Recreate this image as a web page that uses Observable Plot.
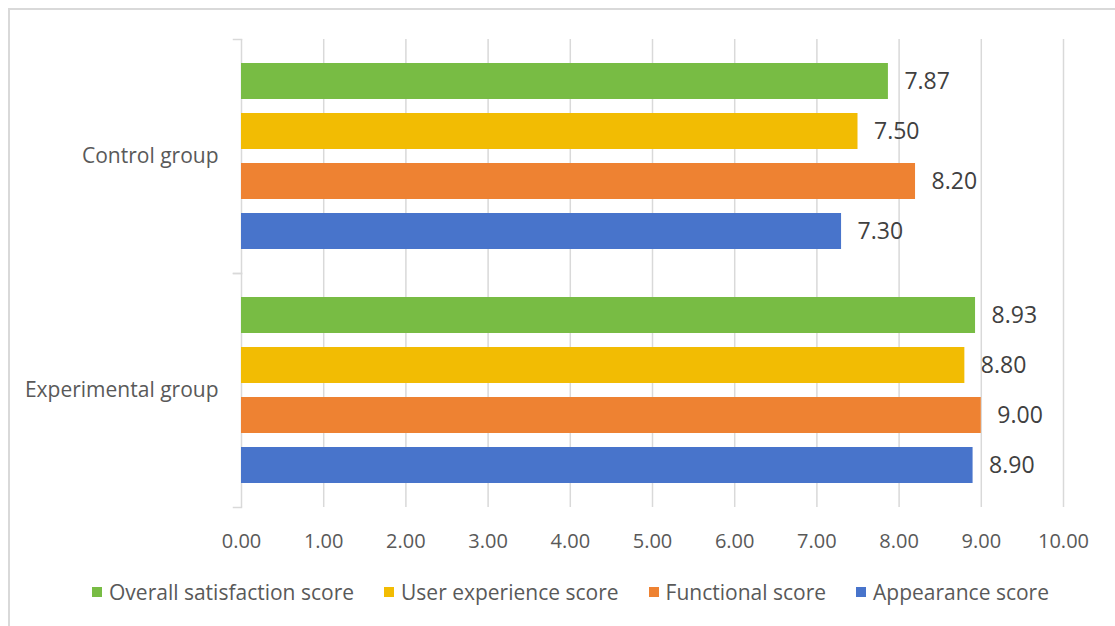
<!DOCTYPE html>
<html>
<head>
<meta charset="utf-8">
<script src="https://cdn.jsdelivr.net/npm/d3@7"></script>
<script src="https://cdn.jsdelivr.net/npm/@observablehq/plot@0.6"></script>
<style>
  html, body { margin: 0; padding: 0; background: #fff; }
  #wrap { position: relative; width: 1115px; height: 626px; overflow: hidden; background: #fff; }
  #border { position: absolute; left: 8px; top: 8px; width: 1200px; height: 700px; border: 2px solid #d9d9d9; box-sizing: border-box; }
  #chart { position: absolute; left: 0; top: 0; }
  #legend { position: absolute; left: 0; top: 575px; width: 1115px; display: flex; justify-content: center; padding-left: 56px; box-sizing: border-box; }
  #legend .lg-swatch { margin-right: 30px !important; }
  #legend .lg-swatch svg { margin-right: 7px !important; }
</style>
</head>
<body>
<div id="wrap">
  <div id="border"></div>
  <div id="chart"></div>
  <div id="legend"></div>
</div>
<script>
const groups = ["Control group", "Experimental group"];
const series = ["Overall satisfaction score", "User experience score", "Functional score", "Appearance score"];
const colors = ["#78bc44", "#f2bc03", "#ee8232", "#4874cb"];
const controlValues = [7.87, 7.50, 8.20, 7.30];
const experimentalValues = [8.93, 8.80, 9.00, 8.90];
const xTicks = [0, 1, 2, 3, 4, 5, 6, 7, 8, 9, 10];

const data = [];
series.forEach((s, i) => {
  data.push({group: groups[0], series: s, value: controlValues[i]});
  data.push({group: groups[1], series: s, value: experimentalValues[i]});
});

const W = 1115, ML = 241, MR = 52;
const fmt = d3.format(".2f");

const chart = Plot.plot({
  width: W,
  height: 565,
  marginTop: 38,
  marginBottom: 58,
  marginLeft: ML,
  marginRight: MR,
  style: {fontFamily: "Open Sans, sans-serif", fontSize: "20px", color: "#595959", background: "transparent"},
  x: {domain: [0, 10], ticks: xTicks, tickFormat: fmt, tickSize: 0, tickPadding: 26, label: null, line: false},
  y: {domain: series, axis: null, paddingInner: 0.29, paddingOuter: 0.485},
  fy: {domain: groups, padding: 0, label: null, axis: null},
  color: {domain: series, range: colors},
  marks: [
    Plot.gridX(xTicks, {stroke: "#d9d9d9", strokeOpacity: 1, strokeWidth: 1.5}),
    Plot.frame({anchor: "top", stroke: "#d9d9d9", strokeWidth: 1.5, insetLeft: -8, insetRight: W - ML - MR}),
    Plot.frame({anchor: "bottom", stroke: "#d9d9d9", strokeWidth: 1.5, insetLeft: -8, insetRight: W - ML - MR}),
    Plot.axisFy({anchor: "left", tickSize: 0, tickPadding: 23, fontSize: 21, label: null}),
    Plot.barX(data, {x: "value", y: "series", fy: "group", fill: "series"}),
    Plot.text(data, {x: "value", y: "series", fy: "group", text: d => fmt(d.value), textAnchor: "start", dx: 16, fill: "#404040", fontSize: 23})
  ]
});
document.getElementById("chart").appendChild(chart);

const legend = Plot.legend({
  color: {domain: series, range: colors},
  legend: "swatches",
  swatchSize: 10,
  className: "lg",
  style: {fontFamily: "Open Sans, sans-serif", fontSize: "21px", color: "#595959"}
});
document.getElementById("legend").appendChild(legend);
</script>
</body>
</html>
